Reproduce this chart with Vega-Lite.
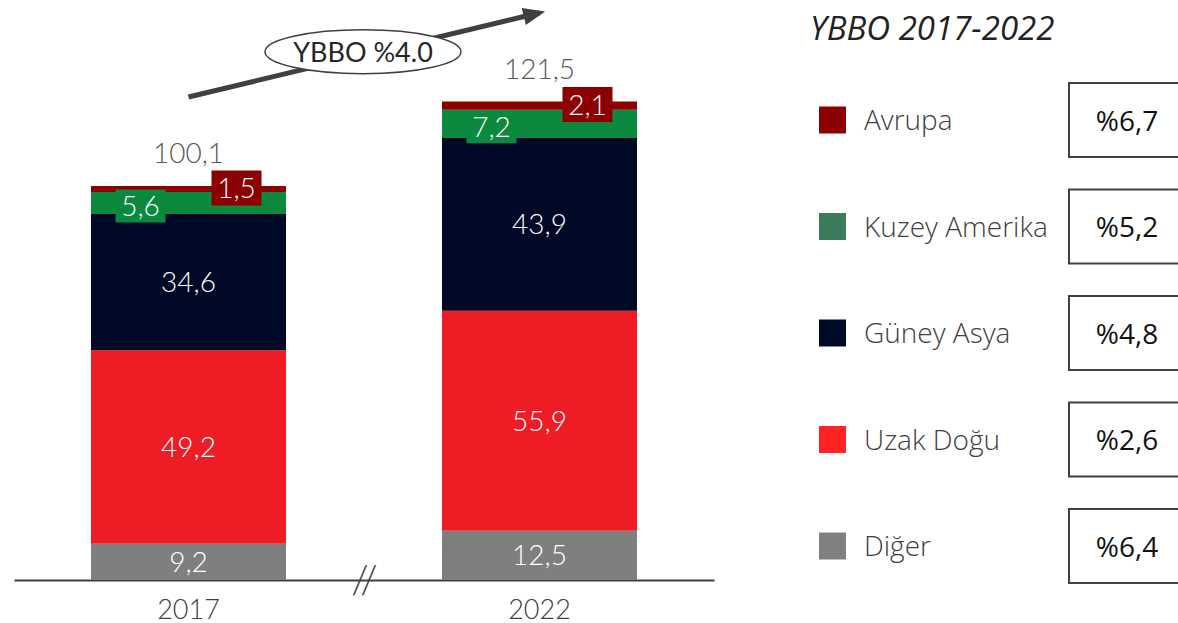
{
  "$schema": "https://vega.github.io/schema/vega-lite/v6.json",
  "width": 1178,
  "height": 623,
  "autosize": "none",
  "padding": 0,
  "background": "white",
  "config": {
    "view": {"stroke": null},
    "locale": {"number": {"decimal": ",", "thousands": ".", "grouping": [3], "currency": ["%", ""]}}
  },
  "datasets": {
    "segments": [
      {"year": "2017", "region": "Diğer", "value": 9.2, "order": 1},
      {"year": "2017", "region": "Uzak Doğu", "value": 49.2, "order": 2},
      {"year": "2017", "region": "Güney Asya", "value": 34.6, "order": 3},
      {"year": "2017", "region": "Kuzey Amerika", "value": 5.6, "order": 4},
      {"year": "2017", "region": "Avrupa", "value": 1.5, "order": 5},
      {"year": "2022", "region": "Diğer", "value": 12.5, "order": 1},
      {"year": "2022", "region": "Uzak Doğu", "value": 55.9, "order": 2},
      {"year": "2022", "region": "Güney Asya", "value": 43.9, "order": 3},
      {"year": "2022", "region": "Kuzey Amerika", "value": 7.2, "order": 4},
      {"year": "2022", "region": "Avrupa", "value": 2.1, "order": 5}
    ],
    "totals": [
      {"year": "2017", "total": 100.1},
      {"year": "2022", "total": 121.5}
    ],
    "rates": [
      {"region": "Avrupa", "rate": 6.7},
      {"region": "Kuzey Amerika", "rate": 5.2},
      {"region": "Güney Asya", "rate": 4.8},
      {"region": "Uzak Doğu", "rate": 2.6},
      {"region": "Diğer", "rate": 6.4}
    ],
    "heading": [{"title": "YBBO 2017-2022"}]
  },
  "layer": [
    {
      "encoding": {
        "x": {
          "field": "year", "type": "nominal",
          "scale": {"domain": ["2017", "2022"], "range": [14, 714], "paddingInner": 0.4444, "paddingOuter": 0.2194},
          "axis": {
            "title": null, "orient": "bottom", "offset": -43,
            "domainColor": "#404040", "domainWidth": 2,
            "ticks": false, "tickSize": 0, "grid": false,
            "labelPadding": 38, "labelBaseline": "alphabetic", "labelAngle": 0,
            "labelFont": "Lato", "labelFontWeight": 300, "labelFontSize": 27, "labelColor": "#404040"
          }
        }
      },
      "layer": [
        {
          "data": {"name": "segments"},
          "mark": {"type": "bar"},
          "encoding": {
            "y": {"field": "value", "type": "quantitative", "stack": "zero", "scale": {"domain": [-10.925, 147.36], "nice": false, "zero": false}, "axis": null},
            "color": {
              "field": "region", "type": "nominal",
              "scale": {"domain": ["Avrupa", "Kuzey Amerika", "Güney Asya", "Uzak Doğu", "Diğer"], "range": ["#8B0000", "#0B8A3F", "#000926", "#EE1C24", "#7F7F7F"]},
              "legend": null
            },
            "order": {"field": "order", "type": "quantitative"}
          }
        },
        {
          "data": {"name": "segments"},
          "mark": {"type": "text", "font": "Lato", "fontWeight": 300, "fontSize": 28, "color": "white", "baseline": "alphabetic", "dy": 10},
          "encoding": {
            "y": {"field": "value", "type": "quantitative", "stack": "zero", "bandPosition": 0.5, "scale": {"domain": [-10.925, 147.36], "nice": false, "zero": false}, "axis": null},
            "detail": {"field": "region", "type": "nominal"},
            "order": {"field": "order", "type": "quantitative"},
            "text": {"condition": {"test": "datum.region !== 'Avrupa' && datum.region !== 'Kuzey Amerika'", "field": "value", "type": "quantitative", "format": ".1f"}, "value": ""}
          }
        },
        {
          "data": {"name": "segments"},
          "mark": {"type": "point", "shape": "M-1,-0.66L1,-0.66L1,0.66L-1,0.66Z", "size": 2500, "filled": true, "fill": "#0B8A3F", "strokeWidth": 0, "xOffset": -48, "yOffset": 3},
          "encoding": {
            "y": {"field": "value", "type": "quantitative", "stack": "zero", "bandPosition": 0.5, "scale": {"domain": [-10.925, 147.36], "nice": false, "zero": false}, "axis": null},
            "detail": {"field": "region", "type": "nominal"},
            "order": {"field": "order", "type": "quantitative"},
            "opacity": {"condition": {"test": "datum.region === 'Kuzey Amerika'", "value": 1}, "value": 0}
          }
        },
        {
          "data": {"name": "segments"},
          "mark": {"type": "point", "shape": "M-1,-0.7L1,-0.7L1,0.7L-1,0.7Z", "size": 2500, "filled": true, "fill": "#8B0000", "strokeWidth": 0, "xOffset": 48, "yOffset": -1},
          "encoding": {
            "y": {"field": "value", "type": "quantitative", "stack": "zero", "bandPosition": 0.5, "scale": {"domain": [-10.925, 147.36], "nice": false, "zero": false}, "axis": null},
            "detail": {"field": "region", "type": "nominal"},
            "order": {"field": "order", "type": "quantitative"},
            "opacity": {"condition": {"test": "datum.region === 'Avrupa'", "value": 1}, "value": 0}
          }
        },
        {
          "data": {"name": "segments"},
          "mark": {"type": "text", "font": "Lato", "fontWeight": 300, "fontSize": 28, "color": "white", "baseline": "alphabetic", "dx": -48, "dy": 13},
          "encoding": {
            "y": {"field": "value", "type": "quantitative", "stack": "zero", "bandPosition": 0.5, "scale": {"domain": [-10.925, 147.36], "nice": false, "zero": false}, "axis": null},
            "detail": {"field": "region", "type": "nominal"},
            "order": {"field": "order", "type": "quantitative"},
            "text": {"condition": {"test": "datum.region === 'Kuzey Amerika'", "field": "value", "type": "quantitative", "format": ".1f"}, "value": ""}
          }
        },
        {
          "data": {"name": "segments"},
          "mark": {"type": "text", "font": "Lato", "fontWeight": 300, "fontSize": 28, "color": "white", "baseline": "alphabetic", "dx": 48, "dy": 9},
          "encoding": {
            "y": {"field": "value", "type": "quantitative", "stack": "zero", "bandPosition": 0.5, "scale": {"domain": [-10.925, 147.36], "nice": false, "zero": false}, "axis": null},
            "detail": {"field": "region", "type": "nominal"},
            "order": {"field": "order", "type": "quantitative"},
            "text": {"condition": {"test": "datum.region === 'Avrupa'", "field": "value", "type": "quantitative", "format": ".1f"}, "value": ""}
          }
        },
        {
          "data": {"name": "totals"},
          "mark": {"type": "text", "font": "Lato", "fontWeight": 300, "fontSize": 28, "color": "#595959", "baseline": "alphabetic", "dy": -23},
          "encoding": {
            "y": {"field": "total", "type": "quantitative", "scale": {"domain": [-10.925, 147.36], "nice": false, "zero": false}, "axis": null},
            "text": {"field": "total", "type": "quantitative", "format": ".1f"}
          }
        },
        {
          "data": {"name": "totals"},
          "mark": {"type": "line", "color": "#404040", "strokeWidth": 5, "strokeCap": "butt", "yOffset": -89},
          "encoding": {
            "y": {"field": "total", "type": "quantitative", "scale": {"domain": [-10.925, 147.36], "nice": false, "zero": false}, "axis": null}
          }
        },
        {
          "data": {"name": "totals"},
          "transform": [{"filter": "datum.year === '2022'"}],
          "mark": {"type": "point", "shape": "M-1,-0.8L1,0L-1,0.8Z", "size": 484, "filled": true, "fill": "#404040", "strokeWidth": 0, "opacity": 1, "angle": -13.56, "xOffset": -5, "yOffset": -87.8},
          "encoding": {
            "y": {"field": "total", "type": "quantitative", "scale": {"domain": [-10.925, 147.36], "nice": false, "zero": false}, "axis": null}
          }
        },
        {
          "data": {"name": "totals"},
          "transform": [{"filter": "datum.year === '2022'"}],
          "mark": {"type": "point", "shape": "M-1,0C-1,-0.1237,-0.5523,-0.224,0,-0.224C0.5523,-0.224,1,-0.1237,1,0C1,0.1237,0.5523,0.224,0,0.224C-0.5523,0.224,-1,0.1237,-1,0Z", "size": 38416, "filled": true, "fill": "white", "stroke": "#404040", "strokeWidth": 1.5, "opacity": 1, "xOffset": -176.5, "yOffset": -50},
          "encoding": {
            "y": {"field": "total", "type": "quantitative", "scale": {"domain": [-10.925, 147.36], "nice": false, "zero": false}, "axis": null}
          }
        },
        {
          "data": {"name": "totals"},
          "transform": [{"filter": "datum.year === '2022'"}],
          "mark": {"type": "text", "text": "YBBO %4.0", "font": "Lato", "fontSize": 27, "color": "#262626", "baseline": "alphabetic", "dx": -176.5, "dy": -40},
          "encoding": {
            "y": {"field": "total", "type": "quantitative", "scale": {"domain": [-10.925, 147.36], "nice": false, "zero": false}, "axis": null}
          }
        },
        {
          "data": {"name": "totals"},
          "transform": [{"filter": "datum.year === '2017'"}],
          "mark": {"type": "text", "text": "//", "font": "Lato", "fontWeight": 300, "fontSize": 40, "color": "#404040", "baseline": "middle", "dx": 176, "dy": 2},
          "encoding": {
            "y": {"datum": 0, "type": "quantitative", "scale": {"domain": [-10.925, 147.36], "nice": false, "zero": false}, "axis": null}
          }
        }
      ]
    },
    {
      "encoding": {
        "y": {
          "field": "region", "type": "nominal",
          "scale": {"type": "point", "domain": ["Avrupa", "Kuzey Amerika", "Güney Asya", "Uzak Doğu", "Diğer"], "range": [120, 546], "padding": 0},
          "axis": null
        }
      },
      "layer": [
        {
          "data": {"name": "rates"},
          "mark": {"type": "point", "shape": "square", "size": 729, "filled": true, "opacity": 1, "strokeWidth": 0, "x": 832.5},
          "encoding": {
            "color": {
              "field": "region", "type": "nominal",
              "scale": {"domain": ["Avrupa", "Kuzey Amerika", "Güney Asya", "Uzak Doğu", "Diğer"], "range": ["#8B0000", "#3B7D5B", "#000926", "#FF2323", "#808080"]},
              "legend": null
            }
          }
        },
        {
          "data": {"name": "rates"},
          "mark": {"type": "text", "x": 864, "align": "left", "baseline": "alphabetic", "dy": 10, "font": "Open Sans", "fontWeight": 300, "fontSize": 28, "color": "#404040"},
          "encoding": {
            "text": {"field": "region", "type": "nominal"}
          }
        },
        {
          "data": {"name": "rates"},
          "mark": {"type": "point", "shape": "M-1,-0.569L1,-0.569L1,0.569L-1,0.569Z", "size": 16900, "filled": true, "fill": "white", "stroke": "#404040", "strokeWidth": 2, "opacity": 1, "x": 1134}
        },
        {
          "data": {"name": "rates"},
          "mark": {"type": "text", "x": 1127, "align": "center", "baseline": "alphabetic", "dy": 10.5, "font": "Open Sans", "fontSize": 28, "color": "#111111"},
          "encoding": {
            "text": {"field": "rate", "type": "quantitative", "format": "$.1f"}
          }
        },
        {
          "data": {"name": "heading"},
          "mark": {"type": "text", "x": 810, "y": 40, "align": "left", "baseline": "alphabetic", "font": "Open Sans", "fontStyle": "italic", "fontSize": 33, "color": "#222222"},
          "encoding": {
            "y": {"value": 40},
            "text": {"field": "title", "type": "nominal"}
          }
        }
      ]
    }
  ],
  "resolve": {"scale": {"x": "independent", "y": "independent", "color": "independent"}}
}
